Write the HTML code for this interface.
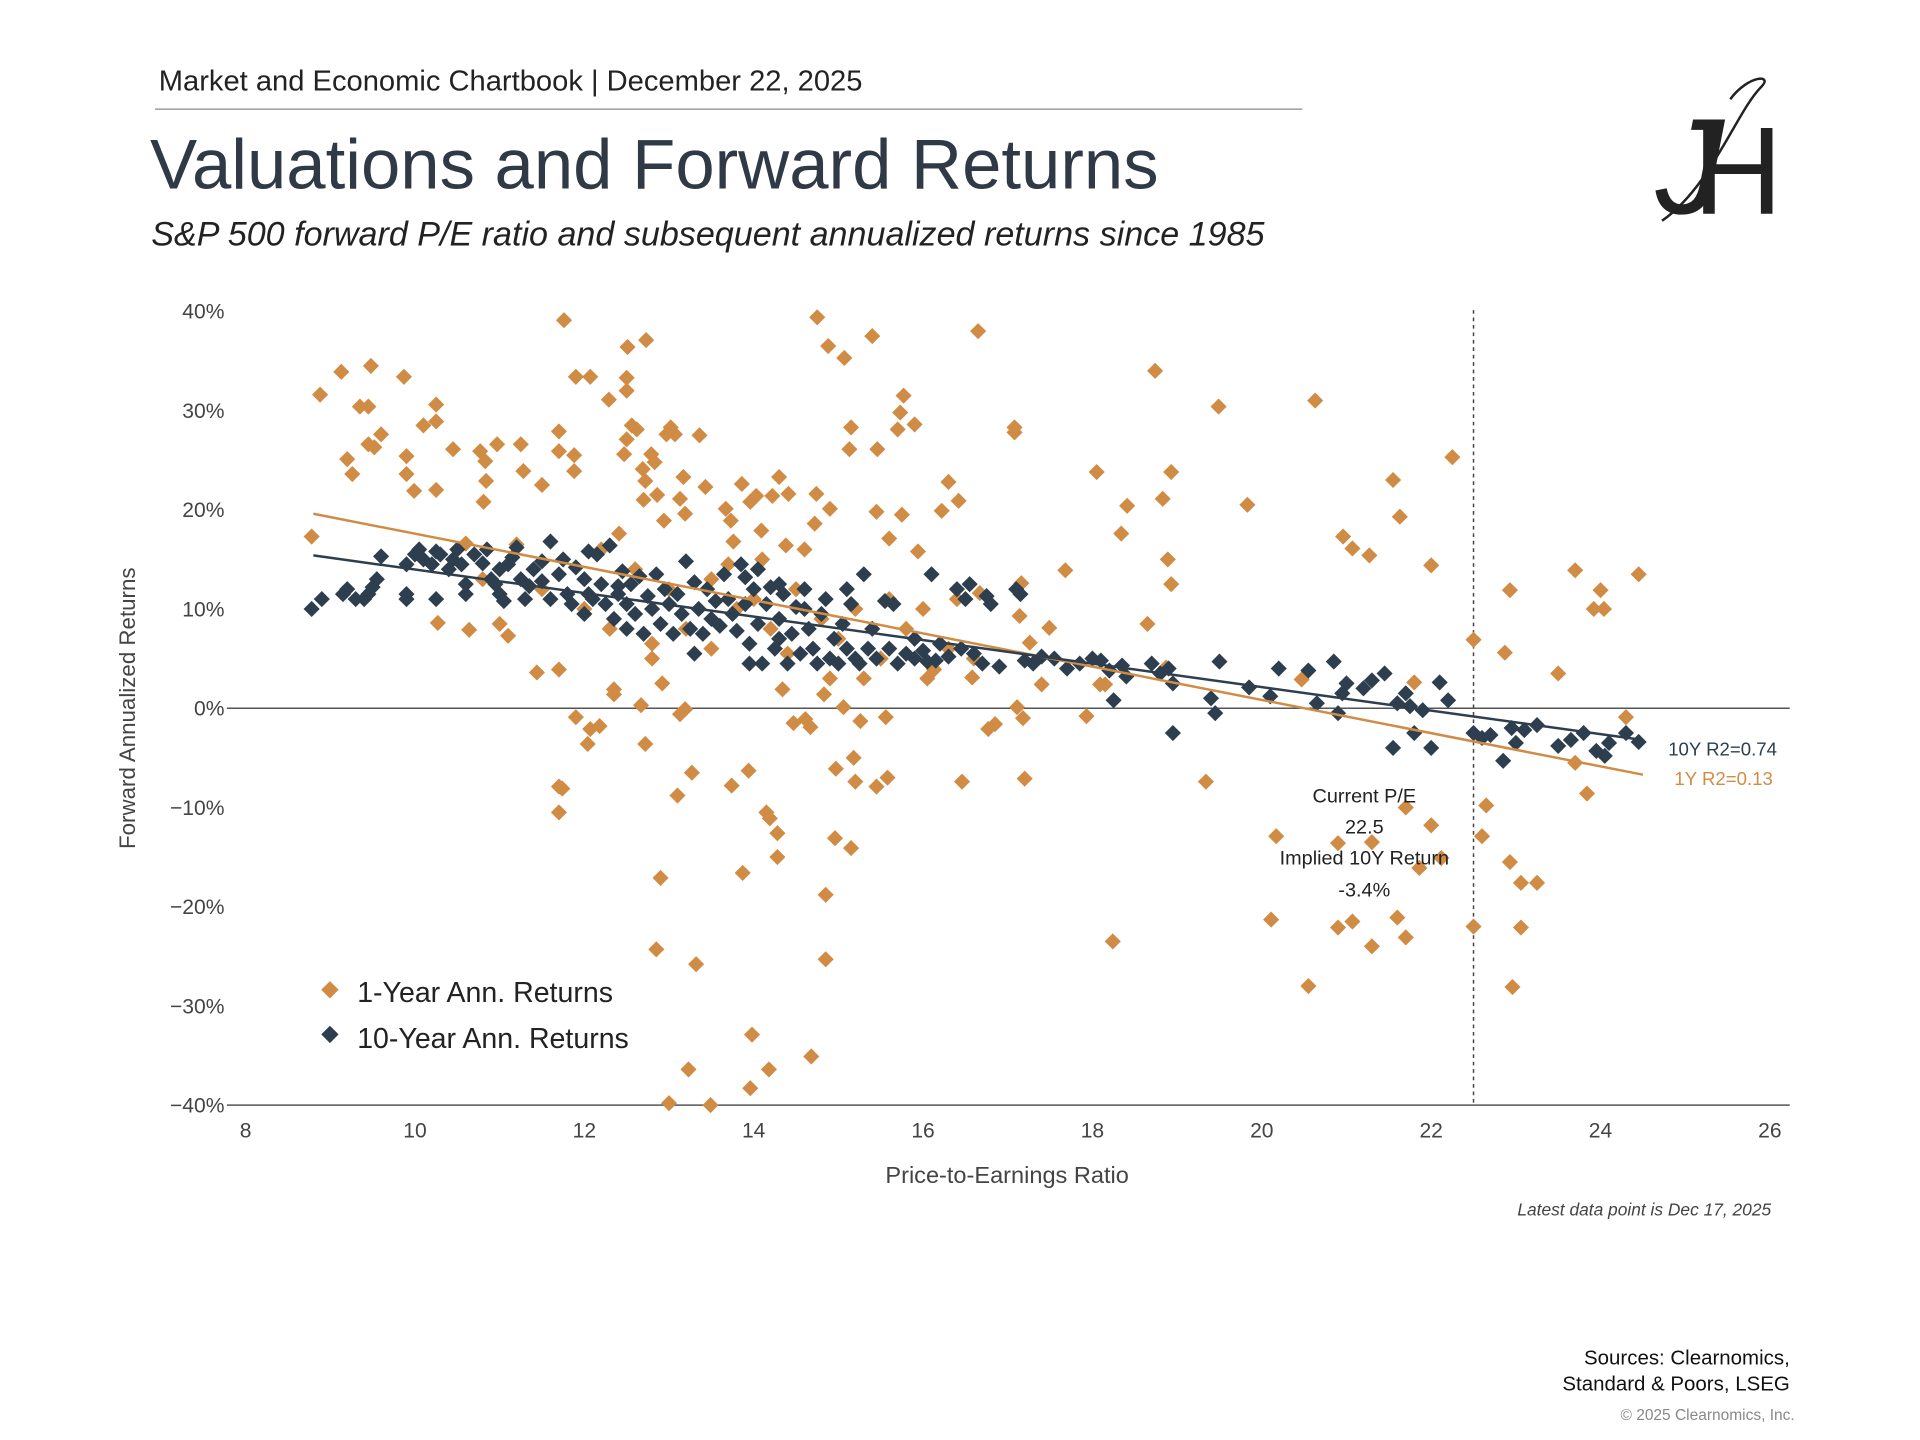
<!DOCTYPE html>
<html><head><meta charset="utf-8"><title>Valuations and Forward Returns</title>
<style>
html,body{margin:0;padding:0;background:#fff;}
svg{display:block;}
text{font-family:"Liberation Sans",sans-serif;}
</style></head>
<body>
<svg id="chart" width="1920" height="1440" viewBox="0 0 1548 1161" xmlns="http://www.w3.org/2000/svg">
<rect width="1548" height="1161" fill="#fff"/>
<text x="128" y="73" font-size="23.5" fill="#222">Market and Economic Chartbook | December 22, 2025</text>
<line x1="125" y1="88" x2="1050" y2="88" stroke="#888" stroke-width="1"/>
<text x="121" y="152" font-size="57" fill="#2f3a46">Valuations and Forward Returns</text>
<text x="122" y="198" font-size="27.5" font-style="italic" fill="#222">S&amp;P 500 forward P/E ratio and subsequent annualized returns since 1985</text>
<g>
<text x="1335" y="172" font-family="Liberation Serif,serif" font-size="110" font-style="italic" fill="#222">J</text>
<text x="1365" y="172" font-family="Liberation Serif,serif" font-size="100" fill="#222">H</text>
<path d="M1340 178 C1380 150,1400 90,1420 70 C1430 60,1410 60,1395 80" fill="none" stroke="#222" stroke-width="2"/>
</g>
<g id="axes"></g>
<g id="marks"></g>
<text transform="translate(109,571) rotate(-90)" text-anchor="middle" font-size="18" fill="#444">Forward Annualized Returns</text>
<text x="812" y="954" text-anchor="middle" font-size="19" fill="#444">Price-to-Earnings Ratio</text>
<text x="1428" y="980" text-anchor="end" font-size="14" font-style="italic" fill="#444">Latest data point is Dec 17, 2025</text>
<text x="1345" y="609" font-size="15" fill="#2d3e4e">10Y R2=0.74</text>
<text x="1350" y="633" font-size="15" fill="#d08c45">1Y R2=0.13</text>
<g font-size="16" fill="#222" text-anchor="middle">
<text x="1100" y="647">Current P/E</text><text x="1100" y="672">22.5</text>
<text x="1100" y="697">Implied 10Y Return</text><text x="1100" y="723">-3.4%</text>
</g>
<g>
<path d="M266 791 L273 798 L266 805 L259 798Z" fill="#d08c45"/>
<text x="288" y="808" font-size="23" fill="#222">1-Year Ann. Returns</text>
<path d="M266 827 L273 834 L266 841 L259 834Z" fill="#2d3e4e"/>
<text x="288" y="845" font-size="23" fill="#222">10-Year Ann. Returns</text>
</g>
<text x="1443" y="1100" text-anchor="end" font-size="16.5" fill="#111">Sources: Clearnomics,</text>
<text x="1443" y="1121" text-anchor="end" font-size="16.5" fill="#111">Standard &amp; Poors, LSEG</text>
<text x="1447" y="1145" text-anchor="end" font-size="12.5" fill="#888">© 2025 Clearnomics, Inc.</text>
</svg>
<script>
const xTicks = [8,10,12,14,16,18,20,22,24,26];
const yTicks = [40,30,20,10,0,-10,-20,-30,-40];
const yTickLabels = ["40%","30%","20%","10%","0%","\u221210%","\u221220%","\u221230%","\u221240%"];
const currentPE = 22.5;
const trend1Y = [[8.8,19.6],[24.5,-6.7]];
const trend10Y = [[8.8,15.4],[24.5,-3.2]];
const orangePts = [
[8.78,17.3],[8.88,31.6],[9.13,33.9],[9.48,34.5],[9.87,33.4],[9.2,25.1],[9.26,23.6],[9.35,30.4],[9.45,30.4],[9.45,26.6],[9.52,26.3],[9.6,27.6],[9.9,25.4],[9.9,23.6],[9.99,21.9],[10.1,28.5],[10.25,30.6],[10.25,28.9],[10.25,22],[10.27,8.6],[10.45,26.1],[10.64,7.9],[10.77,25.9],[10.83,24.9],[10.84,22.9],[10.81,20.8],[10.97,26.6],[11.0,8.5],[11.1,7.3],[11.25,26.6],[11.28,23.9],[11.5,22.5],[11.44,3.6],[11.7,3.9],[11.7,27.9],[11.7,25.9],[11.76,39.1],[11.88,23.9],[11.88,25.5],[11.7,-7.9],[11.74,-8.1],[11.7,-10.5],[11.9,33.4],[12.07,33.4],[11.9,-0.9],[12.07,-2.1],[12.04,-3.6],[12.18,-1.8],[12.29,31.1],[12.5,33.3],[12.5,32],[12.51,36.4],[12.73,37.1],[12.5,27.1],[12.56,28.5],[12.62,28.1],[12.47,25.6],[12.69,24.1],[12.72,22.9],[12.79,25.6],[12.83,24.8],[12.86,21.5],[12.7,21],[12.35,1.9],[12.35,1.4],[12.67,0.3],[12.72,-3.6],[12.8,6.5],[12.41,17.6],[12.97,27.6],[13.02,28.3],[13.07,27.6],[12.94,18.9],[13.13,21.1],[13.19,19.6],[13.17,23.3],[13.36,27.5],[13.43,22.3],[13.13,-0.6],[13.19,-0.1],[13.1,-8.8],[13.27,-6.5],[12.92,2.5],[12.9,-17.1],[12.85,-24.3],[13.32,-25.8],[13.23,-36.4],[13.0,-39.8],[13.49,-40],[13.67,20.1],[13.73,18.9],[13.76,16.8],[13.86,22.6],[13.96,20.8],[14.03,21.4],[14.22,21.4],[14.3,23.3],[14.41,21.6],[14.09,17.9],[14.38,16.4],[13.74,-7.8],[13.87,-16.6],[13.94,-6.3],[14.15,-10.5],[14.19,-11.1],[14.28,-12.6],[14.28,-15],[13.98,-32.9],[13.96,-38.3],[14.18,-36.4],[14.68,-35.1],[14.47,-1.5],[14.34,1.9],[14.75,39.4],[14.88,36.5],[15.07,35.3],[15.4,37.5],[15.15,28.3],[15.13,26.1],[15.46,26.1],[15.73,29.8],[15.77,31.5],[15.9,28.6],[15.7,28.1],[15.75,19.5],[15.45,19.8],[14.9,20.1],[14.74,21.6],[14.72,18.6],[15.94,15.8],[15.6,17.1],[14.83,1.4],[14.61,-1.1],[14.67,-1.9],[15.06,0.1],[15.26,-1.3],[15.56,-0.9],[14.97,-6.1],[15.18,-5],[15.2,-7.4],[15.45,-7.9],[15.58,-7],[14.96,-13.1],[15.15,-14.1],[14.85,-18.8],[14.85,-25.3],[16.05,3],[16.13,3.9],[16.22,19.9],[16.3,22.8],[16.42,20.9],[16.46,-7.4],[16.65,38],[16.58,3.1],[16.67,11.6],[16.77,-2.1],[16.85,-1.6],[17.08,28.3],[17.08,27.8],[17.14,9.3],[17.16,12.6],[17.11,0.1],[17.18,-1],[17.2,-7.1],[17.26,6.6],[17.49,8.1],[17.4,2.4],[17.68,13.9],[17.93,-0.8],[18.05,23.8],[18.09,2.4],[18.15,2.4],[18.34,17.6],[18.41,20.4],[18.24,-23.5],[18.65,8.5],[18.74,34],[18.83,21.1],[18.93,23.8],[18.89,15],[18.93,12.5],[18.87,4.1],[19.34,-7.4],[19.49,30.4],[19.83,20.5],[20.17,-12.9],[20.11,-21.3],[20.55,-28],[20.63,31],[20.47,2.9],[20.96,17.3],[21.07,16.1],[20.9,-13.6],[20.9,-22.1],[21.07,-21.5],[21.3,-13.5],[21.3,-24],[21.27,15.4],[21.55,23],[21.63,19.3],[21.7,-10],[21.6,-21.1],[21.7,-23.1],[21.86,-16.1],[21.8,2.6],[22.0,-11.8],[22.0,14.4],[22.12,-15.1],[22.25,25.3],[22.5,6.9],[22.5,-22],[22.6,-12.9],[22.65,-9.8],[22.87,5.6],[22.93,11.9],[22.93,-15.5],[22.96,-28.1],[23.06,-17.6],[23.06,-22.1],[23.25,-17.6],[23.5,3.5],[23.7,13.9],[23.7,-5.5],[23.84,-8.6],[23.92,10],[24.0,11.9],[24.04,10],[24.3,-0.9],[24.45,13.5],
[12.2,16],[12.6,14],[13,12],[13.5,13],[14,11],[14.2,8],[14.5,12],[14.8,9],[15,7],[15.2,10],[15.5,5],[15.8,8],[16,10],[16.3,6],[16.6,5],[11,14],[11.5,12],[12,10],[13.2,8],[14.6,16],[14.1,15],[13.8,10],[12.8,5],[15.3,3],[14.9,3],[15.6,11],[16.4,11],[14.4,5.5],[13.5,6],[11.2,16.5],[10.6,16.6],[10.8,13],[12.3,8],[13.7,14.5]
];
const navyPts = [
[8.78,10],[8.9,11],[9.15,11.5],[9.2,12],[9.3,11],[9.4,11],[9.45,11.5],[9.5,12.2],[9.55,13],[9.6,15.3],[9.9,14.5],[9.9,11.5],[9.9,11.0],[10.0,15.5],[10.05,16],[10.1,15],[10.2,14.5],[10.25,15.8],[10.25,11],[10.3,15.5],[10.4,14],[10.45,15],[10.5,16],[10.55,14.5],[10.6,12.5],[10.6,11.5],[10.7,15.5],[10.8,14.6],[10.85,16],[10.9,13],[11.0,14],[11.0,11.5],[11.05,10.8],[11.1,14.5],[11.15,15.2],[11.2,16.2],[11.25,13],[11.3,11],[11.4,14],[11.5,14.8],[11.5,12.8],[11.6,11],[11.6,16.8],[11.7,13.5],[11.75,15],[11.8,11.5],[11.85,10.5],[11.9,14.2],[12.0,13],[12.0,9.5],[12.05,15.8],[12.1,11],[12.15,15.5],[12.2,12.5],[12.25,10.5],[12.3,16.4],[12.35,9],[12.4,11.5],[12.45,13.8],[12.5,10.5],[12.5,8],[12.55,12.5],[12.6,9.5],[12.65,13.3],[12.7,7.5],[12.75,11.3],[12.8,10],[12.85,13.5],[12.9,8.5],[12.95,12],[13.0,10.5],[13.05,7.5],[13.1,11.5],[13.15,9.5],[13.2,14.8],[13.25,8],[13.3,12.7],[13.35,10],[13.4,7.5],[13.45,12],[13.5,9],[13.55,10.8],[13.6,8.3],[13.65,13.5],[13.7,11],[13.75,9.5],[13.8,7.8],[13.85,14.5],[13.9,10.5],[13.95,6.5],[13.95,4.5],[14.0,12],[14.05,8.5],[14.1,4.5],[14.15,10.5],[14.2,12.2],[14.25,6],[14.3,9],[14.35,11.5],[14.4,4.5],[14.45,7.5],[14.5,10.2],[14.55,5.5],[14.6,12],[14.65,8],[14.7,6],[14.75,4.5],[14.8,9.5],[14.85,11],[14.9,5],[14.95,7],[15.0,4.5],[15.05,8.5],[15.1,6],[15.15,10.5],[15.2,5],[15.25,4.5],[15.3,13.5],[15.35,6],[15.4,8],[15.45,5],[15.55,10.8],[15.6,6],[15.65,10.5],[15.7,4.5],[15.8,5.5],[15.9,7],[16.0,5.8],[16.05,4.7],[16.1,13.5],[16.2,6.5],[16.3,5.2],[16.4,12],[16.45,6],[16.5,11],[16.55,12.5],[16.6,5.5],[16.7,4.5],[16.75,11.3],[16.8,10.5],[16.9,4.2],[17.1,12],[17.15,11.5],[17.2,4.8],[17.3,4.5],[17.4,5.2],[17.55,5],[17.7,4],[17.85,4.5],[18.0,5],[18.1,4.8],[18.2,3.8],[18.25,0.8],[18.35,4.3],[18.4,3.2],[18.7,4.5],[18.8,3.5],[18.9,4],[18.95,2.5],[18.95,-2.5],[19.4,1],[19.45,-0.5],[19.5,4.7],[19.85,2.1],[20.1,1.2],[20.2,4],[20.55,3.8],[20.65,0.5],[20.85,4.7],[20.9,-0.5],[20.95,1.5],[21.0,2.5],[21.2,2],[21.3,2.8],[21.45,3.5],[21.55,-4],[21.6,0.5],[21.7,1.5],[21.75,0.2],[21.8,-2.5],[21.9,-0.2],[22.0,-4],[22.1,2.6],[22.2,0.8],[22.5,-2.5],[22.6,-3],[22.7,-2.7],[22.85,-5.3],[22.95,-2],[23.0,-3.5],[23.1,-2.2],[23.25,-1.7],[23.5,-3.8],[23.65,-3.2],[23.8,-2.5],[23.95,-4.3],[24.05,-4.8],[24.1,-3.5],[24.3,-2.5],[24.45,-3.4],[13.9,13.2],[14.3,12.5],[14.05,14],[14.6,10],[15.1,12],[14.3,7],[13.3,5.5],[12.05,11.5],[12.4,12.3],[11.35,12.3],[10.95,12.5],[15.9,5],[16.15,4.8]
];

const NS = "http://www.w3.org/2000/svg";
const X0 = 198, X1 = 1427, Y0 = 571, PX_PER_PCT = 8;
function xScale(v){ return X0 + (v - 8) * (X1 - X0) / 18; }
function yScale(v){ return Y0 - v * PX_PER_PCT; }
function mk(tag, attrs){ const e = document.createElementNS(NS, tag); for (const k in attrs) e.setAttribute(k, attrs[k]); return e; }

const axes = document.getElementById('axes');
const marks = document.getElementById('marks');

const zero = mk('line', {x1:183, x2:1443, y1:yScale(0), y2:yScale(0), stroke:'#555', 'stroke-width':1.2});


axes.appendChild(zero);
const base = mk('line', {x1:183, x2:1443, y1:yScale(-40), y2:yScale(-40), stroke:'#555', 'stroke-width':1.2});


axes.appendChild(base);

yTicks.forEach((t, i) => {
  const tx = mk('text', {x:181, y:yScale(t) + 6, 'text-anchor':'end', 'font-size':17, fill:'#444'});
  tx.textContent = yTickLabels[i];
  
  
  axes.appendChild(tx);
});
xTicks.forEach(t => {
  const tx = mk('text', {x:xScale(t), y:917, 'text-anchor':'middle', 'font-size':17, fill:'#444'});
  tx.textContent = String(t);
  
  
  axes.appendChild(tx);
});

const vline = mk('line', {x1:xScale(currentPE), x2:xScale(currentPE), y1:250, y2:yScale(-40), stroke:'#444', 'stroke-width':1.2, 'stroke-dasharray':'3,3'});


axes.appendChild(vline);

function diamond(pe, r, color, name){
  const cx = xScale(pe), cy = yScale(r), s = 6.5;
  const p = mk('path', {d:`M${cx} ${cy-s}L${cx+s} ${cy}L${cx} ${cy+s}L${cx-s} ${cy}Z`, fill:color});
  
  
  marks.appendChild(p);
}
orangePts.forEach(d => diamond(d[0], d[1], '#d08c45', 'point-1y'));
navyPts.forEach(d => diamond(d[0], d[1], '#2d3e4e', 'point-10y'));

const t1 = mk('line', {x1:xScale(trend1Y[0][0]), y1:yScale(trend1Y[0][1]), x2:xScale(trend1Y[1][0]), y2:yScale(trend1Y[1][1]), stroke:'#d08c45', 'stroke-width':2});


marks.appendChild(t1);
const t10 = mk('line', {x1:xScale(trend10Y[0][0]), y1:yScale(trend10Y[0][1]), x2:xScale(trend10Y[1][0]), y2:yScale(trend10Y[1][1]), stroke:'#2d3e4e', 'stroke-width':2});


marks.appendChild(t10);
</script>
</body></html>
